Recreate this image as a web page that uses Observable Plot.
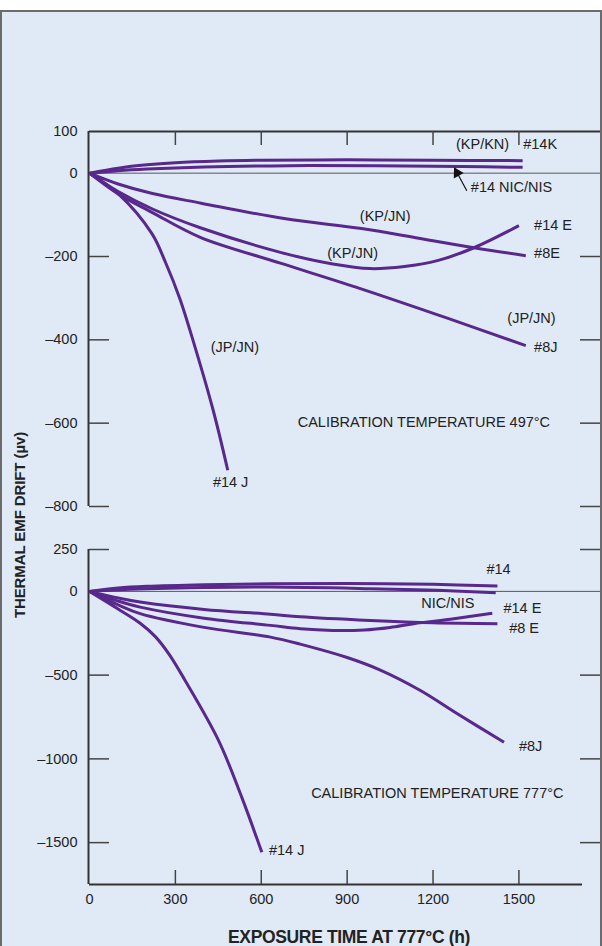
<!DOCTYPE html>
<html><head><meta charset="utf-8">
<script src="https://cdn.jsdelivr.net/npm/d3@7"></script>
<script src="https://cdn.jsdelivr.net/npm/@observablehq/plot@0.6"></script>
<style>
body{margin:0;background:#fff;}
#wrap{position:relative;width:602px;height:946px;overflow:hidden;font-family:"Liberation Sans",Arial,Helvetica,sans-serif;color:#222;}
#panel{position:absolute;left:0;top:10px;width:598px;height:940px;background:#e0eaf6;border:2px solid #6b6b6b;border-bottom:none;}
.plot{position:absolute;left:0;}
#ytitle{position:absolute;left:19px;top:525px;transform:translate(-50%,-50%) rotate(-90deg);white-space:nowrap;font-weight:bold;font-size:15px;letter-spacing:-0.1px;}
#xtitle{position:absolute;left:349px;top:937px;transform:translate(-50%,-50%);white-space:nowrap;font-weight:bold;font-size:17.5px;letter-spacing:-0.35px;}
</style></head><body>
<div id="wrap"><div id="panel"></div>
<div id="ytitle">THERMAL EMF DRIFT (µv)</div>
<div id="xtitle">EXPOSURE TIME AT 777°C (h)</div>
</div>
<script>
// ---- tick values ----
const X_TICKS = [0, 300, 600, 900, 1200, 1500];
const TOP_Y_TICKS = [100, 0, -200, -400, -600, -800];
const TOP_IN_TICKS = [-200, -400, -600, -800];
const BOT_Y_TICKS = [250, 0, -500, -1000, -1500];
const BOT_IN_TICKS = [250, -500, -1000, -1500];

// ---- top panel series (hours, microvolts) calibration 497°C ----
const top_14K = [[0,0],[100,12],[200,20],[300,25],[450,29],[600,31],[900,32],[1200,31],[1513,30]];
const top_NIC = [[0,0],[100,6],[200,10],[400,15],[700,18],[1000,18],[1300,16],[1513,14]];
const top_8E = [[0,0],[100,-26],[220,-49],[390,-72],[680,-109],[950,-133],[1150,-156],[1343,-179],[1524,-198]];
const top_14E = [[0,0],[100,-44],[220,-86],[387,-131],[667,-190],[850,-218],[980,-229],[1100,-224],[1215,-210],[1343,-179],[1500,-126]];
const top_8J = [[0,0],[100,-50],[218,-94],[387,-154],[667,-216],[946,-277],[1250,-348],[1524,-414]];
const top_14J = [[0,0],[100,-49],[218,-145],[266,-215],[315,-300],[365,-409],[432,-569],[483,-713]];

// ---- bottom panel series, calibration 777°C ----
const bot_14 = [[0,0],[100,20],[200,30],[400,40],[632,46],[900,47],[1200,42],[1425,32]];
const bot_NIC = [[0,0],[100,10],[200,16],[400,23],[632,26],[980,16],[1215,6],[1419,-8]];
const bot_8E = [[0,0],[100,-40],[177,-64],[400,-108],[632,-136],[736,-152],[981,-174],[1200,-188],[1425,-193]];
const bot_14E = [[0,0],[100,-58],[177,-94],[400,-160],[632,-203],[736,-223],[850,-233],[960,-230],[1050,-215],[1133,-193],[1273,-163],[1407,-130]];
const bot_8J = [[0,0],[100,-80],[177,-133],[400,-215],[632,-273],[736,-315],[900,-395],[1016,-470],[1156,-592],[1285,-731],[1448,-901]];
const bot_14J = [[0,0],[100,-105],[177,-190],[230,-270],[280,-380],[334,-532],[451,-891],[532,-1230],[602,-1558]];

// ---- labels: [text, hours, microvolts] ----
const top_labels_mid = [["(KP/KN)",1373,68],["(KP/JN)",1033,-104],["(KP/JN)",919,-193],["(JP/JN)",1544,-349],["(JP/JN)",508,-419],["#14 J",493,-742],["CALIBRATION TEMPERATURE 497°C",1168,-598]];
const top_labels_start = [["#14K",1515,68],["#14 NIC/NIS",1332,-34],["#14 E",1553,-126],["#8E",1553,-193],["#8J",1553,-418]];
const top_arrow = [[1318,-42,1276,11]];
const bot_labels_mid = [["#14",1429,130],["NIC/NIS",1252,-70],["CALIBRATION TEMPERATURE 777°C",1215,-1206]];
const bot_labels_start = [["#14 E",1446,-100],["#8 E",1466,-219],["#8J",1500,-926],["#14 J",627,-1548]];

const X_DOMAIN = [0, 1785];
const PURPLE = "#58288c";
const INK = "#222";
const FS = 14.5;
const fmt = d => d < 0 ? "\u2013" + Math.abs(d) : String(d);
const toRows = obj => Object.entries(obj).flatMap(([k, arr]) => arr.map(([t, v]) => ({series: k, t, v})));
const lab = arr => arr.map(([text, t, v]) => ({text, t, v}));

const W = 602, ML = 89, MR = 2;
const FW = W - ML - MR;

function panel({top, height, mt, mb, ydomain, yTicks, inTicks, series, labMid, labStart, arrows, topFrame}) {
  const FH = height - mt - mb;
  const marks = [
    Plot.ruleY([0], {stroke: "#555", strokeWidth: 1}),
    Plot.ruleX([0], {stroke: "#333", strokeWidth: 2, dx: -1}),
    Plot.tickY(inTicks, {y: d => d, insetRight: FW - 20, stroke: "#444", strokeWidth: 1.5}),
    Plot.tickY(inTicks, {y: d => d, insetLeft: FW - 20, stroke: "#444", strokeWidth: 1.5}),
    Plot.axisY(yTicks, {tickSize: 0, tickPadding: 12, tickFormat: fmt, fontSize: FS, fill: INK, label: null}),
    Plot.line(toRows(series), {x: "t", y: "v", z: "series", stroke: PURPLE, strokeWidth: 3, curve: "catmull-rom", strokeLinecap: "butt"}),
    Plot.text(lab(labMid), {x: "t", y: "v", text: "text", textAnchor: "middle", fontSize: FS, fill: INK}),
    Plot.text(lab(labStart), {x: "t", y: "v", text: "text", textAnchor: "start", fontSize: FS, fill: INK})
  ];
  if (topFrame) {
    marks.push(Plot.ruleY([ydomain[1]], {stroke: "#333", strokeWidth: 2}));
    marks.push(Plot.tickX(X_TICKS.filter(d => d > 0), {x: d => d, insetBottom: FH - 14, stroke: "#444", strokeWidth: 1.5}));
    marks.push(Plot.axisX({ticks: [], label: null, tickSize: 0}));
  } else {
    marks.push(Plot.ruleY([ydomain[0]], {stroke: "#333", strokeWidth: 2, insetRight: 18}));
    marks.push(Plot.tickX(X_TICKS.filter(d => d > 0), {x: d => d, insetTop: FH - 14, stroke: "#444", strokeWidth: 1.5}));
    marks.push(Plot.axisX(X_TICKS, {tickSize: 0, tickPadding: 9, fontSize: FS, fill: INK, label: null, tickFormat: d => String(d)}));
  }
  if (arrows) {
    marks.push(Plot.link(arrows, {x1: d => d[0], y1: d => d[1], x2: d => d[2], y2: d => d[3], stroke: "#111", strokeWidth: 1.2}));
    // filled arrowhead at the tip
    marks.push(Plot.dot(arrows, {
      x: d => d[2] + (d[0] - d[2]) * 0.2, y: d => d[3] + (d[1] - d[3]) * 0.2,
      symbol: "triangle", r: 4.2, fill: "#111", stroke: null, rotate: -29
    }));
  }
  const svg = Plot.plot({
    width: W, height, marginLeft: ML, marginRight: MR, marginTop: mt, marginBottom: mb,
    x: {domain: X_DOMAIN},
    y: {domain: ydomain},
    style: {background: "transparent", fontFamily: '"Liberation Sans", Arial, Helvetica, sans-serif', overflow: "visible"},
    marks
  });
  svg.classList.add("plot");
  svg.style.top = top + "px";
  document.getElementById("wrap").appendChild(svg);
}

panel({
  top: 120, height: 400, mt: 11, mb: 14, ydomain: [-800, 100],
  yTicks: TOP_Y_TICKS, inTicks: TOP_IN_TICKS,
  series: {top_14K, top_NIC, top_8E, top_14E, top_8J, top_14J},
  labMid: top_labels_mid, labStart: top_labels_start, arrows: top_arrow, topFrame: true
});
panel({
  top: 530, height: 416, mt: 19, mb: 62, ydomain: [-1750, 250],
  yTicks: BOT_Y_TICKS, inTicks: BOT_IN_TICKS,
  series: {bot_14, bot_NIC, bot_8E, bot_14E, bot_8J, bot_14J},
  labMid: bot_labels_mid, labStart: bot_labels_start, arrows: null, topFrame: false
});
</script>
</body></html>
